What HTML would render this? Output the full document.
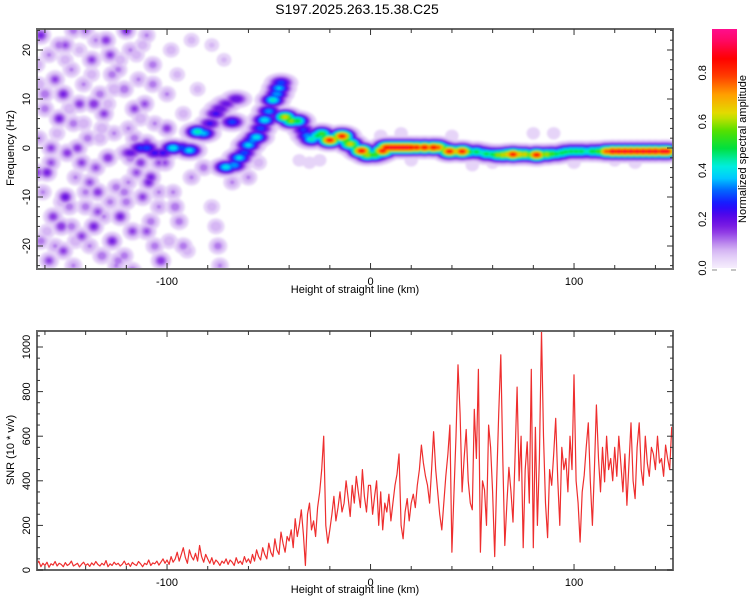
<!DOCTYPE html>
<html><head><meta charset="utf-8">
<style>
html,body{margin:0;padding:0;background:#fff;width:750px;height:600px;overflow:hidden}
svg{display:block;font-family:"Liberation Sans",sans-serif}
</style></head>
<body>
<svg id="chart" width="750" height="600" viewBox="0 0 750 600" xmlns="http://www.w3.org/2000/svg">
<defs>
<clipPath id="clipTop"><rect x="37" y="29" width="636" height="240"/></clipPath>
<clipPath id="clipBot"><rect x="37" y="331" width="636" height="239"/></clipPath>
<filter id="soft" x="-5%" y="-5%" width="110%" height="110%"><feGaussianBlur stdDeviation="1.1"/></filter>
<linearGradient id="cbGrad" x1="0" y1="1" x2="0" y2="0"></linearGradient>
</defs>
<text x="357" y="14" text-anchor="middle" font-size="14" fill="#000">S197.2025.263.15.38.C25</text>
<g clip-path="url(#clipTop)"><g id="heat" filter="url(#soft)"></g></g>
<g id="topAxes"></g>
<g id="snr" clip-path="url(#clipBot)"></g>
<g id="botAxes"></g>
<g id="cbar"></g>
</svg>
<script>
// ---------- data ----------
const snrStartKm = -164;
const snrValues = [
25,40,15,30,20,35,12,28,22,38,18,30,25,15,33,20,27,40,18,24,30,14,26,35,20,28,16,32,22,38,25,18,30,22,42,15,28,20,35,24,30,18,26,40,22,30,16,34,25,20,38,28,15,30,24,45,20,32,28,40,22,35,50,30,
45,25,60,35,50,80,40,70,100,55,30,90,60,45,75,40,110,60,35,70,50,30,55,25,45,35,20,40,30,50,25,45,35,20,55,30,40,25,60,35,
50,30,70,40,90,60,45,100,70,50,120,80,60,140,90,70,170,120,80,150,
130,180,100,230,150,200,270,160,20,250,300,180,220,150,280,350,450,600,200,120,
180,250,330,220,280,350,260,300,400,320,240,380,300,420,350,280,450,330,260,380,
380,250,330,400,200,350,180,300,260,340,220,300,380,430,520,200,140,260,320,220,
300,340,280,380,450,560,480,420,380,300,450,620,450,350,250,180,300,420,520,650,
80,350,600,920,700,350,500,630,400,300,270,720,500,900,80,400,360,200,650,550,
350,60,400,700,965,500,110,300,460,350,215,500,820,400,600,100,450,575,300,900,
100,640,200,500,1075,600,300,145,450,380,520,680,400,200,550,450,500,350,600,450,
875,400,300,125,350,425,550,660,400,200,450,740,500,350,550,395,600,450,500,400,
550,420,600,480,350,520,290,480,660,400,320,550,660,450,380,600,480,420,550,520,450,600,480,500,420,560,500,450,640,520
];
// ridge blobs
const ridgeKm = [-118,-113,-110,-106,-102,-97,-93,-89,-85,-82,-79,-76,-74,-71,-68,-66,
 -71,-67,-64.5,-62,-60,-58,-56,-54,-52,-50,-48,-46,-45,-44,
 -42,-39,-36,-33,-31,-29,-26,-24,-22,-20,-17,-14,-12,-10,-7,-4.4,-1.5,
 2,4,6,8,10,12,14,16,18,20,22.6,24.5,26.5,29,31,33,36,38.8,42,45,48,52,55,57,60,62.5,65,67.5,70,73,75.7,78.5,81.6,84,86.5,89,91.4,94,96,98.5,101,103.5,106,109,112,116,119,122,125,128,131,134,137,140,143.5,145.5,148];
const ridgeHz = [-1,0,0,-1,-1,0,0,-0.5,3.3,3,5,7,8,9,5.3,10,
 -3.9,-3.5,-2,-1,0.6,1.5,2.2,4,5.7,7.5,9.8,11,12.2,13.3,
 6.3,5.5,5.5,3.7,2.5,1.8,2.5,2.9,2,1.6,2,2.4,1.5,0.8,0,-0.6,-1.4,
 -1.4,-1.2,-0.6,0.1,0.1,0.1,0.1,0.1,0.1,0.1,0.1,0.1,0.1,0.1,0.1,0.1,-0.2,-0.7,-0.7,-0.7,-0.8,-0.8,-1,-1.2,-1.3,-1.4,-1.4,-1.3,-1.3,-1.3,-1.3,-1.4,-1.4,-1.3,-1.3,-1.2,-1.2,-1,-0.8,-0.7,-0.7,-0.7,-0.7,-0.7,-0.7,-0.7,-0.7,-0.7,-0.7,-0.7,-0.7,-0.7,-0.7,-0.7,-0.7,-0.7,-0.7,-0.7];
const ridgeAmp = [0.2,0.28,0.3,0.24,0.24,0.42,0.3,0.4,0.46,0.38,0.24,0.24,0.22,0.2,0.3,0.22,
 0.42,0.36,0.4,0.3,0.4,0.34,0.42,0.3,0.42,0.35,0.44,0.36,0.38,0.3,
 0.66,0.6,0.52,0.28,0.35,0.45,0.5,0.55,0.55,0.86,0.6,0.86,0.55,0.66,0.5,0.88,0.62,
 0.55,0.5,0.86,0.88,0.9,0.9,0.9,0.9,0.9,0.88,0.86,0.7,0.88,0.7,0.88,0.8,0.6,0.86,0.7,0.86,0.55,0.5,0.45,0.5,0.5,0.6,0.65,0.7,0.86,0.7,0.66,0.6,0.86,0.6,0.62,0.55,0.5,0.5,0.5,0.5,0.5,0.5,0.45,0.52,0.55,0.8,0.9,0.9,0.9,0.9,0.9,0.9,0.9,0.9,0.9,0.9,0.65,0.5];
// noise blobs
const noiseKm = [-162,-158,-155,-160,-163,-157,-161,-156,-162,-158,-150,-147,-151,-146,-149,-145,-150,-147,-151,-146,-140,-137,-141,-136,-139,-135,-140,-136,-138,-142,-130,-127,-131,-126,-129,-125,-131,-127,-124,-133,-120,-118,-121,-116,-119,-115,-120,-117,-121,-114,-110,-107,-111,-106,-109,-104,-110,-106,-103,-100,-98,-95,-97,-94,-99,-92,-88,-85,-90,-82,-78,-75,-74,-76,-72,-78,-60,-55,-68,-88,-153,-144,-134,-123,-113,-159,-143,-128,-117,-152,
 -164,-160,-154,-148,-143,-138,-133,-128,-123,-118,-113,-108,-164,-159,-153,-148,-142,-137,-132,-126,-121,-115,-110,-104,-163,-157,-152,-146,-141,-134,-129,-124,-119,-112,-107,-101,-96,-92,-100,-104,-108,-112,-116,-125,-132,-140,-155,-150,-145,-135,
 -35,-25,-10,5,20,40,60,80,100,120,-52,-30,15,50,90,130];
const noiseHz = [23,19,14,8,2,-3,-9,-14,-19,-23,21,16,11,5,-1,-6,-10,-16,-21,-24,24,18,13,9,2,-4,-12,-16,-20,-18,22,15,7,3,-2,-8,-14,-19,-23,11,24,20,12,8,4,-5,-11,-17,-22,14,23,17,9,5,-7,-12,-17,-20,-23,11,20,15,-9,-15,-19,7,-6,12,-21,-4,-12,-20,-24,-16,18,21,-6,-3,-7,22,6,0,-9,-14,-3,-5,9,19,-25,-16,
 17,11,3,-12,20,-7,2,-11,18,-2,6,-15,-5,-17,21,8,-3,15,-22,12,-9,19,1,-9,13,0,-11,24,5,-13,9,16,-7,21,13,-3,-12,-20,4,-3,-6,-10,2,-24,4,-9,-20,18,-19,22,
 -2.5,-2.5,2.5,2.5,-2.5,2.5,-3,3,-3,-2.5,5,-3,3,-3.5,3,-3];
const noiseAmp = [0.18,0.1,0.15,0.12,0.1,0.14,0.1,0.16,0.12,0.15,0.14,0.1,0.18,0.12,0.16,0.1,0.2,0.12,0.15,0.1,0.12,0.15,0.1,0.17,0.12,0.14,0.12,0.18,0.1,0.15,0.16,0.12,0.15,0.1,0.17,0.12,0.1,0.18,0.12,0.12,0.18,0.1,0.13,0.15,0.1,0.14,0.12,0.15,0.12,0.1,0.1,0.12,0.14,0.1,0.18,0.1,0.14,0.12,0.17,0.1,0.08,0.07,0.1,0.12,0.09,0.08,0.1,0.07,0.08,0.12,0.08,0.12,0.1,0.09,0.06,0.06,0.1,0.08,0.1,0.07,0.18,0.16,0.16,0.18,0.16,0.18,0.16,0.15,0.12,0.17,
 0.09,0.13,0.08,0.12,0.07,0.14,0.09,0.11,0.08,0.13,0.09,0.12,0.16,0.08,0.12,0.09,0.15,0.08,0.13,0.09,0.12,0.08,0.16,0.1,0.09,0.15,0.08,0.12,0.09,0.14,0.08,0.11,0.1,0.08,0.12,0.14,0.13,0.12,0.16,0.14,0.18,0.15,0.12,0.1,0.09,0.11,0.1,0.08,0.09,0.1,
 0.05,0.05,0.05,0.05,0.05,0.05,0.05,0.05,0.05,0.05,0.06,0.05,0.05,0.05,0.05,0.05];
const xTicksMajor = [-100,0,100];
const topYTicks = [-20,-10,0,10,20];
const botYTicks = [0,200,400,600,800,1000];
const cbTicks = [0.0,0.2,0.4,0.6,0.8];

// ---------- scales ----------
const X = km => 37 + (km + 163.9) * 2.035;
const YT = hz => 148 - hz * 4.9;
const YB = v => 570 - 0.223 * v;
const CB = a => 268 - a * 244;

const cmapStops = [[0,'#f6eefd'],[0.04,'#e6d4f8'],[0.08,'#d0acf2'],[0.12,'#a868ea'],[0.16,'#8426e2'],[0.21,'#5a04e6'],[0.26,'#1a10ff'],[0.32,'#0068ff'],[0.37,'#00ccff'],[0.42,'#00f0dc'],[0.49,'#00e040'],[0.56,'#50e000'],[0.63,'#e0e000'],[0.71,'#ffa000'],[0.79,'#ff3800'],[0.86,'#ff0000'],[0.93,'#ff0860'],[1,'#ff10a0']];
function hex2rgb(h){return [1,3,5].map(i=>parseInt(h.substr(i,2),16));}
function cmap(v){
  for(let i=1;i<cmapStops.length;i++){
    if(v<=cmapStops[i][0]){
      const [a,ca]=cmapStops[i-1],[b,cb]=cmapStops[i];
      const t=(v-a)/(b-a),p=hex2rgb(ca),q=hex2rgb(cb);
      return 'rgb('+p.map((c,k)=>Math.round(c+(q[k]-c)*t)).join(',')+')';
    }
  }
  return cmapStops[cmapStops.length-1][1];
}
const NS='http://www.w3.org/2000/svg';
function mk(tag,attrs,parent){const e=document.createElementNS(NS,tag);for(const k in attrs)e.setAttribute(k,attrs[k]);parent.appendChild(e);return e;}

// ---------- heatmap ----------
const heat=document.getElementById('heat');
const levels=[0.02,0.05,0.09,0.13,0.17,0.22,0.27,0.32,0.37,0.42,0.47,0.52,0.58,0.64,0.7,0.76,0.82,0.88];
const blobs=[];
for(let i=0;i<noiseKm.length;i++) blobs.push({x:X(noiseKm[i]),y:YT(noiseHz[i]),a:noiseAmp[i],sx:5,sy:4.6});
for(let i=0;i<ridgeKm.length;i++) blobs.push({x:X(ridgeKm[i]),y:YT(ridgeHz[i]),a:ridgeAmp[i],sx:7.5,sy:4.4});
levels.forEach(l=>{
  const g=mk('g',{fill:cmap(l+0.02)},heat);
  
  
  blobs.forEach(b=>{
    if(b.a<=l) return;
    const f=Math.sqrt(2*Math.log(b.a/l));
    const e=mk('ellipse',{cx:b.x.toFixed(1),cy:b.y.toFixed(1),rx:(b.sx*f).toFixed(2),ry:(b.sy*f).toFixed(2)},g);
    
    
  });
});

// ---------- axes ----------
function frame(parent,y0,y1){
  const r=mk('rect',{x:37,y:y0,width:636,height:y1-y0,fill:'none',stroke:'#666',"stroke-width":2},parent);
  
  
}
function xAxis(parent,y0,y1,labelY,titleY){
  for(let k=-160;k<=140;k+=20){
    const major=xTicksMajor.includes(k), len=major?6:4, x=X(k);
    mk('line',{x1:x,x2:x,y1:y1,y2:y1-len,stroke:'#333'},parent);
    mk('line',{x1:x,x2:x,y1:y0,y2:y0+len,stroke:'#333'},parent);
  }
  xTicksMajor.forEach(k=>{
    const t=mk('text',{x:X(k),y:labelY,"text-anchor":"middle","font-size":11},parent);
    
    
    t.textContent=k;
  });
  const t=mk('text',{x:355,y:titleY,"text-anchor":"middle","font-size":11},parent);
  
  
  t.textContent='Height of straight line (km)';
}
const topAx=document.getElementById('topAxes');
frame(topAx,29,269);
xAxis(topAx,29,269,285,293);
for(let h=-24;h<=24;h+=2){
  const y=YT(h),len=(h%10===0)?6:3;
  mk('line',{x1:37,x2:37+len,y1:y,y2:y,stroke:'#333'},topAx);
  mk('line',{x1:673,x2:673-len,y1:y,y2:y,stroke:'#333'},topAx);
}
topYTicks.forEach(h=>{
  const t=mk('text',{x:0,y:0,"text-anchor":"middle","font-size":11,transform:`translate(30,${YT(h)}) rotate(-90)`},topAx);
  
  
  t.textContent=h;
});
{const t=mk('text',{x:0,y:0,"text-anchor":"middle","font-size":11,transform:'translate(14,148) rotate(-90)'},topAx);


t.textContent='Frequency (Hz)';}

// ---------- SNR line ----------
const snrG=document.getElementById('snr');
const pts=snrValues.map((v,i)=>X(snrStartKm+i).toFixed(1)+','+YB(v).toFixed(1)).join(' ');
const pl=mk('polyline',{points:pts,fill:'none',stroke:'#ee2e2e',"stroke-width":1.2,"stroke-linejoin":"round"},snrG);



const botAx=document.getElementById('botAxes');
frame(botAx,331,570);
xAxis(botAx,331,570,586,593);
for(let v=0;v<=1050;v+=50){
  const y=YB(v),len=(v%200===0)?6:3;
  mk('line',{x1:37,x2:37+len,y1:y,y2:y,stroke:'#333'},botAx);
  mk('line',{x1:673,x2:673-len,y1:y,y2:y,stroke:'#333'},botAx);
}
botYTicks.forEach(v=>{
  const t=mk('text',{x:0,y:0,"text-anchor":"middle","font-size":11,transform:`translate(30,${YB(v)}) rotate(-90)`},botAx);
  
  
  t.textContent=v;
});
{const t=mk('text',{x:0,y:0,"text-anchor":"middle","font-size":11,transform:'translate(14,450) rotate(-90)'},botAx);


t.textContent='SNR (10 * v/v)';}

// ---------- colorbar ----------
const grad=document.getElementById('cbGrad');
for(let i=0;i<=40;i++){
  const v=i/40*0.98;
  mk('stop',{offset:(i/40*100)+'%',"stop-color":cmap(v)},grad);
}
const cb=document.getElementById('cbar');
const cr=mk('rect',{x:712,y:29,width:25,height:239,fill:'url(#cbGrad)'},cb);


cbTicks.forEach(a=>{
  const t=mk('text',{x:0,y:0,"text-anchor":"middle","font-size":11,transform:`translate(706,${CB(a)}) rotate(-90)`},cb);
  
  
  t.textContent=a.toFixed(1);
});
mk('line',{x1:712,x2:717,y1:270,y2:270,stroke:'#888'},cb);
mk('line',{x1:731,x2:736,y1:270,y2:270,stroke:'#888'},cb);
{const t=mk('text',{x:0,y:0,"text-anchor":"middle","font-size":11,transform:'translate(746,149) rotate(-90)'},cb);


t.textContent='Normalized spectral amplitude';}
</script>
</body></html>
